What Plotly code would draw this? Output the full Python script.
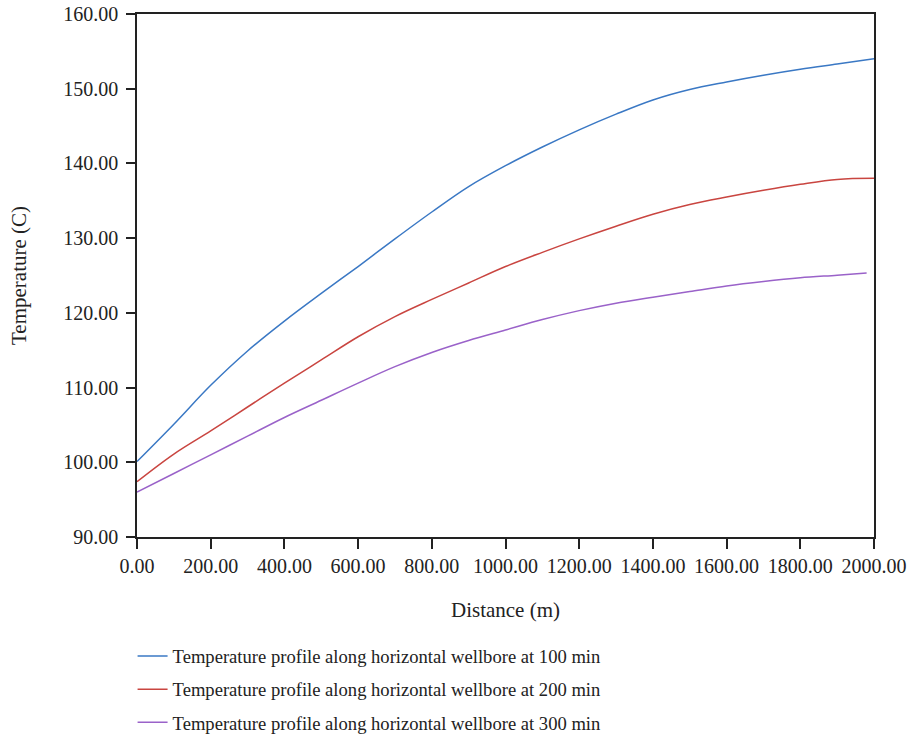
import plotly.graph_objects as go

distance = [0, 100, 200, 300, 400, 500, 600, 700, 800, 900, 1000,
            1100, 1200, 1300, 1400, 1500, 1600, 1700, 1800, 1900, 2000]
temp_100 = [100.1, 105.1, 110.3, 114.9, 118.9, 122.6, 126.2, 129.9, 133.5, 136.9, 139.7,
            142.2, 144.5, 146.6, 148.5, 149.9, 150.9, 151.8, 152.6, 153.3, 154.0]
temp_200 = [97.4, 101.1, 104.2, 107.4, 110.6, 113.7, 116.8, 119.5, 121.8, 124.0, 126.2,
            128.1, 129.9, 131.6, 133.2, 134.5, 135.5, 136.4, 137.2, 137.85, 138.0]
distance_300 = [0, 100, 200, 300, 400, 500, 600, 700, 800, 900, 1000,
                1100, 1200, 1300, 1400, 1500, 1600, 1700, 1800, 1900, 1980]
temp_300 = [96.0, 98.5, 101.0, 103.5, 106.0, 108.3, 110.6, 112.8, 114.7, 116.3, 117.7,
            119.1, 120.3, 121.3, 122.1, 122.85, 123.6, 124.2, 124.7, 125.05, 125.35]

names = ["Temperature profile along horizontal wellbore at 100 min",
         "Temperature profile along horizontal wellbore at 200 min",
         "Temperature profile along horizontal wellbore at 300 min"]
colors = ["#3a78c4", "#c94540", "#9a62c9"]

FONT = "Liberation Serif"

fig = go.Figure()
for xs, ys, nm, c, g in [(distance, temp_100, names[0], colors[0], "a"),
                         (distance, temp_200, names[1], colors[1], "b"),
                         (distance_300, temp_300, names[2], colors[2], "c")]:
    fig.add_trace(go.Scatter(x=xs, y=ys, mode="lines", name=nm, legendgroup=g,
                             line=dict(color=c, width=1.5, shape="spline", smoothing=1.0)))

tickvals_x = [0, 200, 400, 600, 800, 1000, 1200, 1400, 1600, 1800, 2000]
tickvals_y = [90, 100, 110, 120, 130, 140, 150, 160]

fig.update_layout(
    width=909, height=738,
    paper_bgcolor="white", plot_bgcolor="white",
    margin=dict(l=137, r=35, t=14, b=201, autoexpand=False),
    font=dict(family=FONT, size=20, color="#222222"),
    showlegend=True,
    legend=dict(x=-0.006, y=-0.192,
                xanchor="left", yanchor="top", font=dict(family=FONT, size=18.6, color="#222222"),
                traceorder="grouped", tracegroupgap=6, itemwidth=30,
                bgcolor="rgba(0,0,0,0)"),
    xaxis=dict(range=[0, 2000], tickvals=tickvals_x,
               ticktext=[f"{v:.2f}" for v in tickvals_x], tickangle=0, automargin=False,
               tickfont=dict(family=FONT, size=20),
               showgrid=False, zeroline=False, showline=True, linecolor="#222222",
               linewidth=1.5, mirror=True, ticks="outside", ticklen=10, tickwidth=1.5,
               tickcolor="#222222",
               title=dict(text="Distance (m)", standoff=27, font=dict(family=FONT, size=21))),
    yaxis=dict(range=[90, 160], tickvals=tickvals_y,
               ticktext=[f"{v:.2f}" for v in tickvals_y], automargin=False,
               tickfont=dict(family=FONT, size=20), ticklabelstandoff=4,
               showgrid=False, zeroline=False, showline=True, linecolor="#222222",
               linewidth=1.5, mirror=True, ticks="outside", ticklen=9, tickwidth=1.5,
               tickcolor="#222222",
               title=dict(text="Temperature (C)", standoff=31, font=dict(family=FONT, size=21))),
)

fig.write_html("out.html")
